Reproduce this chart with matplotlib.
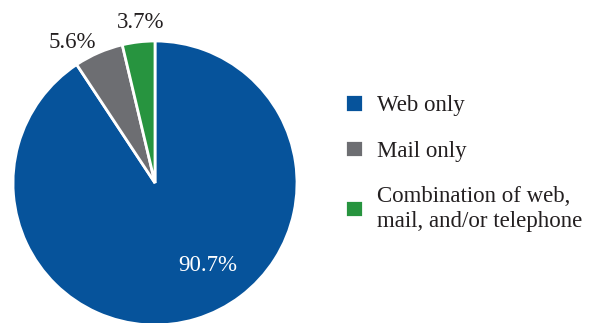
import matplotlib
matplotlib.use("Agg")
from matplotlib import pyplot as plt

plt.rcParams['font.family'] = ['Liberation Serif', 'DejaVu Serif']

labels = ["Web only", "Mail only", "Combination of web,\nmail, and/or telephone"]
shares = [90.7, 5.6, 3.7]
colors = ["#06539b", "#6d6e72", "#27943f"]
pct_text = ["90.7%", "5.6%", "3.7%"]

W, H = 597, 323
fig = plt.figure(figsize=(W / 100, H / 100), dpi=100)
# pie centre ~(155,183) px, radius ~142 px
cx, cy, r = 155, 183, 142
ax = fig.add_axes([(cx - r) / W, (H - cy - r) / H, 2 * r / W, 2 * r / H])
wedges, _ = ax.pie(shares, colors=colors, startangle=90, counterclock=False,
                   radius=1, wedgeprops=dict(edgecolor="white", linewidth=2))
ax.set_xlim(-1, 1)
ax.set_ylim(-1, 1)
ax.set_aspect("equal")
ax.axis("off")

# percentage labels
ax.text(0.37, -0.58, pct_text[0], color="white", fontsize=16.5, ha="center", va="center")
ax.text(-0.58, 0.99, pct_text[1], color="#231f20", fontsize=16.5, ha="center", va="center", clip_on=False)
ax.text(-0.10, 1.13, pct_text[2], color="#231f20", fontsize=16.5, ha="center", va="center", clip_on=False)

leg = fig.legend(wedges, labels, loc="upper left", bbox_to_anchor=(345 / W, 1 - 94 / H),
                 frameon=False, fontsize=16.5, handlelength=0.8, handleheight=0.8,
                 handletextpad=0.6, labelspacing=1.05, borderpad=0, borderaxespad=0,
                 labelcolor="#231f20")
for t in leg.get_texts():
    t.set_linespacing(1.25)

fig.savefig("out.png", dpi=100)
